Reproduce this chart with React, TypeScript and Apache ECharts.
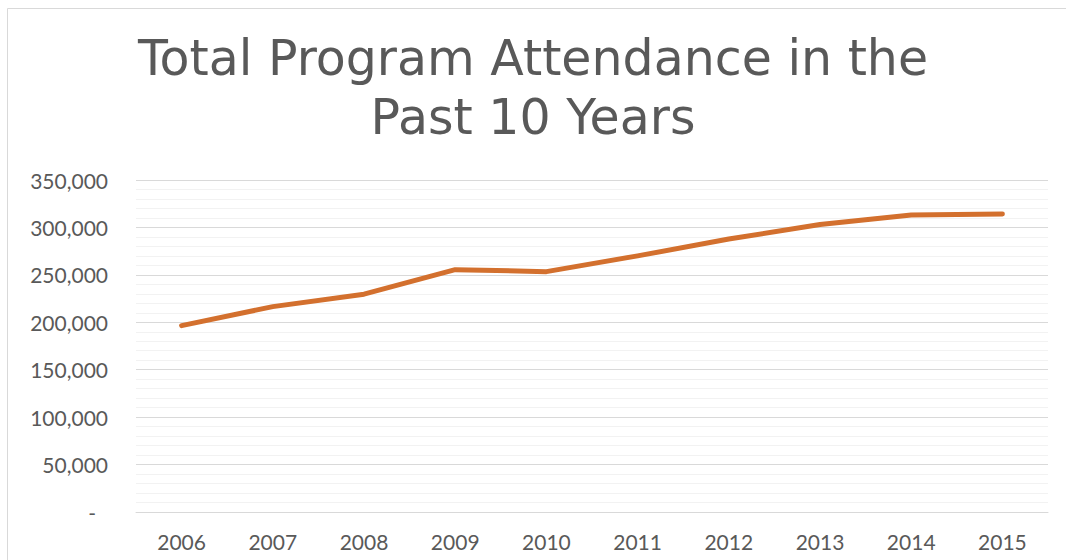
import React, { useEffect, useRef } from "react";
import * as echarts from "echarts";

const years = ["2006", "2007", "2008", "2009", "2010", "2011", "2012", "2013", "2014", "2015"];
const attendance = [196500, 216500, 229600, 255500, 253400, 270000, 287800, 303000, 313000, 314200];
const yTicks = { min: 0, max: 350000, interval: 50000 };
const titleText = "Total Program Attendance in the\nPast 10 Years";

export default function App() {
  const ref = useRef<HTMLDivElement>(null);
  useEffect(() => {
    if (!ref.current) return;
    const chart = echarts.init(ref.current, null, { renderer: "svg" });
    const font = "Lato, 'DejaVu Sans', sans-serif";
    const titleFont = "'DejaVu Sans', sans-serif";
    chart.setOption({
      animation: false,
      backgroundColor: "#ffffff",
      title: {
        text: titleText,
        left: "center",
        top: 24,
        textStyle: {
          fontFamily: titleFont,
          fontWeight: "normal",
          fontSize: 49,
          lineHeight: 59,
          color: "#595959",
        },
      },
      graphic: [
        {
          type: "rect",
          shape: { x: 7.5, y: 8.5, width: 1200, height: 700 },
          style: { fill: "none", stroke: "#d9d9d9", lineWidth: 1 },
          silent: true,
          z: -1,
        },
      ],
      grid: { left: 136, right: 18, top: 180, bottom: 48 },
      xAxis: {
        type: "category",
        data: years,
        boundaryGap: true,
        axisLine: { show: true, lineStyle: { color: "#d9d9d9", width: 1 } },
        axisTick: { show: false },
        axisLabel: { color: "#595959", fontSize: 21, fontFamily: font, margin: 19 },
      },
      yAxis: {
        type: "value",
        min: yTicks.min,
        max: yTicks.max,
        interval: yTicks.interval,
        axisLine: { show: false },
        axisTick: { show: false },
        axisLabel: {
          color: "#595959",
          fontSize: 21,
          fontFamily: font,
          margin: 28,
          formatter: (v: number) =>
            v === 0 ? "{d|-}" : v.toLocaleString("en-US"),
          rich: { d: { color: "#595959", fontSize: 21, fontFamily: font, padding: [0, 12, 0, 0] } },
        },
        splitLine: { show: true, lineStyle: { color: "#d9d9d9", width: 1 } },
        minorTick: { show: false, splitNumber: 5 },
        minorSplitLine: { show: true, lineStyle: { color: "#f2f2f2", width: 1 } },
      },
      series: [
        {
          type: "line",
          data: attendance,
          showSymbol: false,
          symbol: "none",
          lineStyle: { color: "#d3702e", width: 5, cap: "round", join: "round" },
          itemStyle: { color: "#d3702e" },
        },
      ],
    });
    return () => chart.dispose();
  }, []);
  return (
    <div
      ref={ref}
      style={{ position: "absolute", left: 0, top: 0, width: 1066, height: 560 }}
    />
  );
}
